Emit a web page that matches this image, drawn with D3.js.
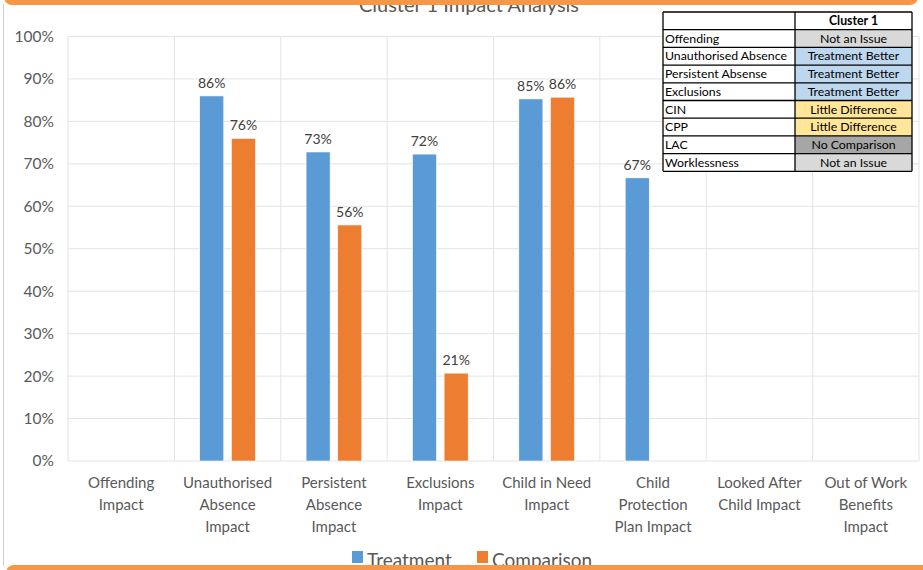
<!DOCTYPE html>
<html>
<head>
<meta charset="utf-8">
<script src="https://cdn.jsdelivr.net/npm/d3@7"></script>
<style>
  body { margin: 0; background: #fff; }
  svg { display: block; font-family: Lato, "Open Sans", sans-serif; }
</style>
</head>
<body>
<svg id="chart" width="923" height="570"></svg>
<script>
const categories = [
  ["Offending", "Impact"],
  ["Unauthorised", "Absence", "Impact"],
  ["Persistent", "Absence", "Impact"],
  ["Exclusions", "Impact"],
  ["Child in Need", "Impact"],
  ["Child", "Protection", "Plan Impact"],
  ["Looked After", "Child Impact"],
  ["Out of Work", "Benefits", "Impact"]
];
const seriesNames = ["Treatment", "Comparison"];
const treatment = [null, 0.86, 0.728, 0.723, 0.853, 0.667, null, null];
const comparison = [null, 0.76, 0.556, 0.207, 0.857, null, null, null];
const yTicks = [0, 0.1, 0.2, 0.3, 0.4, 0.5, 0.6, 0.7, 0.8, 0.9, 1];

const tableHeader = ["", "Cluster 1"];
const tableRows = ["Offending", "Unauthorised Absence", "Persistent Absense", "Exclusions", "CIN", "CPP", "LAC", "Worklessness"];
const tableStatus = ["Not an Issue", "Treatment Better", "Treatment Better", "Treatment Better", "Little Difference", "Little Difference", "No Comparison", "Not an Issue"];

const COLORS = {"Treatment": "#5B9BD5", "Comparison": "#ED7D31"};
const STATUS_FILL = {
  "Not an Issue": "#D9D9D9",
  "Treatment Better": "#BDD7EE",
  "Little Difference": "#FFE699",
  "No Comparison": "#A6A6A6"
};

const ctx = {left: 68, right: 919, top: 36.5, bottom: 461};
const svg = d3.select("#chart");
const keys = categories.map((c, i) => i);

var x0 = d3.scaleBand().domain(keys).range([ctx.left, ctx.right]);
var x1 = d3.scaleBand().domain(seriesNames).range([0, x0.bandwidth()])
           .paddingInner(0.24).paddingOuter(0.8);
var y = d3.scaleLinear().domain([0, 1]).range([ctx.bottom, ctx.top]);

// gridlines
svg.append("g")
   .selectAll("line.h")
   .data(yTicks)
   .enter().append("line")
   .attr("x1", ctx.left).attr("x2", ctx.right)
   .attr("y1", d => y(d)).attr("y2", d => y(d))
   .attr("stroke", "#e3e3e3").attr("stroke-width", 1);

svg.append("g")
   .selectAll("line.v")
   .data(keys.concat([keys.length]))
   .enter().append("line")
   .attr("x1", d => d < keys.length ? x0(d) : ctx.right)
   .attr("x2", d => d < keys.length ? x0(d) : ctx.right)
   .attr("y1", ctx.top).attr("y2", ctx.bottom)
   .attr("stroke", "#e3e3e3").attr("stroke-width", 1);

// y axis labels
var yAxis = d3.axisLeft(y).tickValues(yTicks).tickFormat(d3.format(".0%")).tickSize(0).tickPadding(14);
svg.append("g")
   .attr("transform", "translate(" + ctx.left + ",0)")
   .call(yAxis)
   .call(g => g.select(".domain").remove())
   .call(g => g.selectAll(".tick text")
      .attr("fill", "#595959").style("font-size", "15.5px")
      .style("font-family", "Lato, sans-serif"));

// bars
const barData = [];
keys.forEach(i => {
  [["Treatment", treatment[i]], ["Comparison", comparison[i]]].forEach(([s, v]) => {
    if (v !== null) barData.push({cat: i, series: s, value: v});
  });
});

svg.append("g")
   .selectAll("rect")
   .data(barData)
   .enter().append("rect")
   .attr("x", d => x0(d.cat) + x1(d.series))
   .attr("width", x1.bandwidth())
   .attr("y", d => y(d.value))
   .attr("height", d => y(0) - y(d.value))
   .attr("fill", d => COLORS[d.series])
   .attr("stroke", "#fff").attr("stroke-width", 0.6);

svg.append("g")
   .selectAll("text")
   .data(barData)
   .enter().append("text")
   .attr("x", d => x0(d.cat) + x1(d.series) + x1.bandwidth() / 2)
   .attr("y", d => y(d.value) - 8)
   .attr("text-anchor", "middle")
   .attr("fill", "#404040")
   .style("font-size", "14px")
   .text(d => d3.format(".0%")(d.value));

// category labels
var catG = svg.append("g").selectAll("text")
   .data(keys)
   .enter().append("text")
   .attr("x", d => x0(d) + x0.bandwidth() / 2)
   .attr("y", 488)
   .attr("text-anchor", "middle")
   .attr("fill", "#595959")
   .style("font-size", "15px");
catG.selectAll("tspan")
   .data(d => categories[d])
   .enter().append("tspan")
   .attr("x", function() { return d3.select(this.parentNode).attr("x"); })
   .attr("dy", (d, i) => i === 0 ? 0 : 22)
   .text(d => d);

// title (partly hidden by the frame band, as in the original)
svg.append("text")
   .attr("x", 469).attr("y", 12)
   .attr("text-anchor", "middle")
   .attr("fill", "#595959")
   .style("font-size", "20px")
   .text("Cluster 1 Impact Analysis");

// legend
var legend = svg.append("g").attr("transform", "translate(352,551)");
var legendX = {"Treatment": 0, "Comparison": 125};
seriesNames.forEach(s => {
  legend.append("rect").attr("x", legendX[s]).attr("y", 0)
        .attr("width", 11).attr("height", 12).attr("fill", COLORS[s]);
  legend.append("text").attr("x", legendX[s] + 15).attr("y", 16)
        .attr("fill", "#595959").style("font-size", "19px").text(s);
});

// status table
const tbl = {left: 663, mid: 795, right: 912, top: 12, rowH: 17.7};
var tg = svg.append("g");
var allRows = [tableHeader].concat(tableRows.map((r, i) => [r, tableStatus[i]]));
allRows.forEach((r, i) => {
  var ty = tbl.top + i * tbl.rowH;
  tg.append("rect").attr("x", tbl.left).attr("y", ty)
    .attr("width", tbl.mid - tbl.left).attr("height", tbl.rowH).attr("fill", "#fff");
  tg.append("rect").attr("x", tbl.mid).attr("y", ty)
    .attr("width", tbl.right - tbl.mid).attr("height", tbl.rowH)
    .attr("fill", i === 0 ? "#fff" : STATUS_FILL[r[1]]);
  tg.append("text").attr("x", tbl.left + 2).attr("y", ty + 13)
    .style("font-size", "12.3px").attr("fill", "#000").text(r[0]);
  tg.append("text").attr("x", (tbl.mid + tbl.right) / 2).attr("y", ty + 13)
    .attr("text-anchor", "middle").style("font-size", "12.3px")
    .style("font-weight", i === 0 ? "bold" : "normal").attr("fill", "#000").text(r[1]);
});
d3.range(allRows.length + 1).forEach(i => {
  var ty = tbl.top + i * tbl.rowH;
  tg.append("line").attr("x1", tbl.left).attr("x2", tbl.right)
    .attr("y1", ty).attr("y2", ty).attr("stroke", "#000").attr("stroke-width", 1.3);
});
[tbl.left, tbl.mid, tbl.right].forEach(xx => {
  tg.append("line").attr("x1", xx).attr("x2", xx)
    .attr("y1", tbl.top).attr("y2", tbl.top + allRows.length * tbl.rowH)
    .attr("stroke", "#000").attr("stroke-width", 1.3);
});

// frame
svg.append("line").attr("x1", 3.5).attr("x2", 3.5).attr("y1", 4).attr("y2", 566)
   .attr("stroke", "#d0d0d0").attr("stroke-width", 1);
svg.append("rect").attr("x", 4).attr("y", -20).attr("width", 914).attr("height", 25)
   .attr("rx", 8).attr("fill", "#F79646");
svg.append("rect").attr("x", 6).attr("y", 565).attr("width", 930).attr("height", 25)
   .attr("rx", 8).attr("fill", "#F79646");
</script>
</body>
</html>
